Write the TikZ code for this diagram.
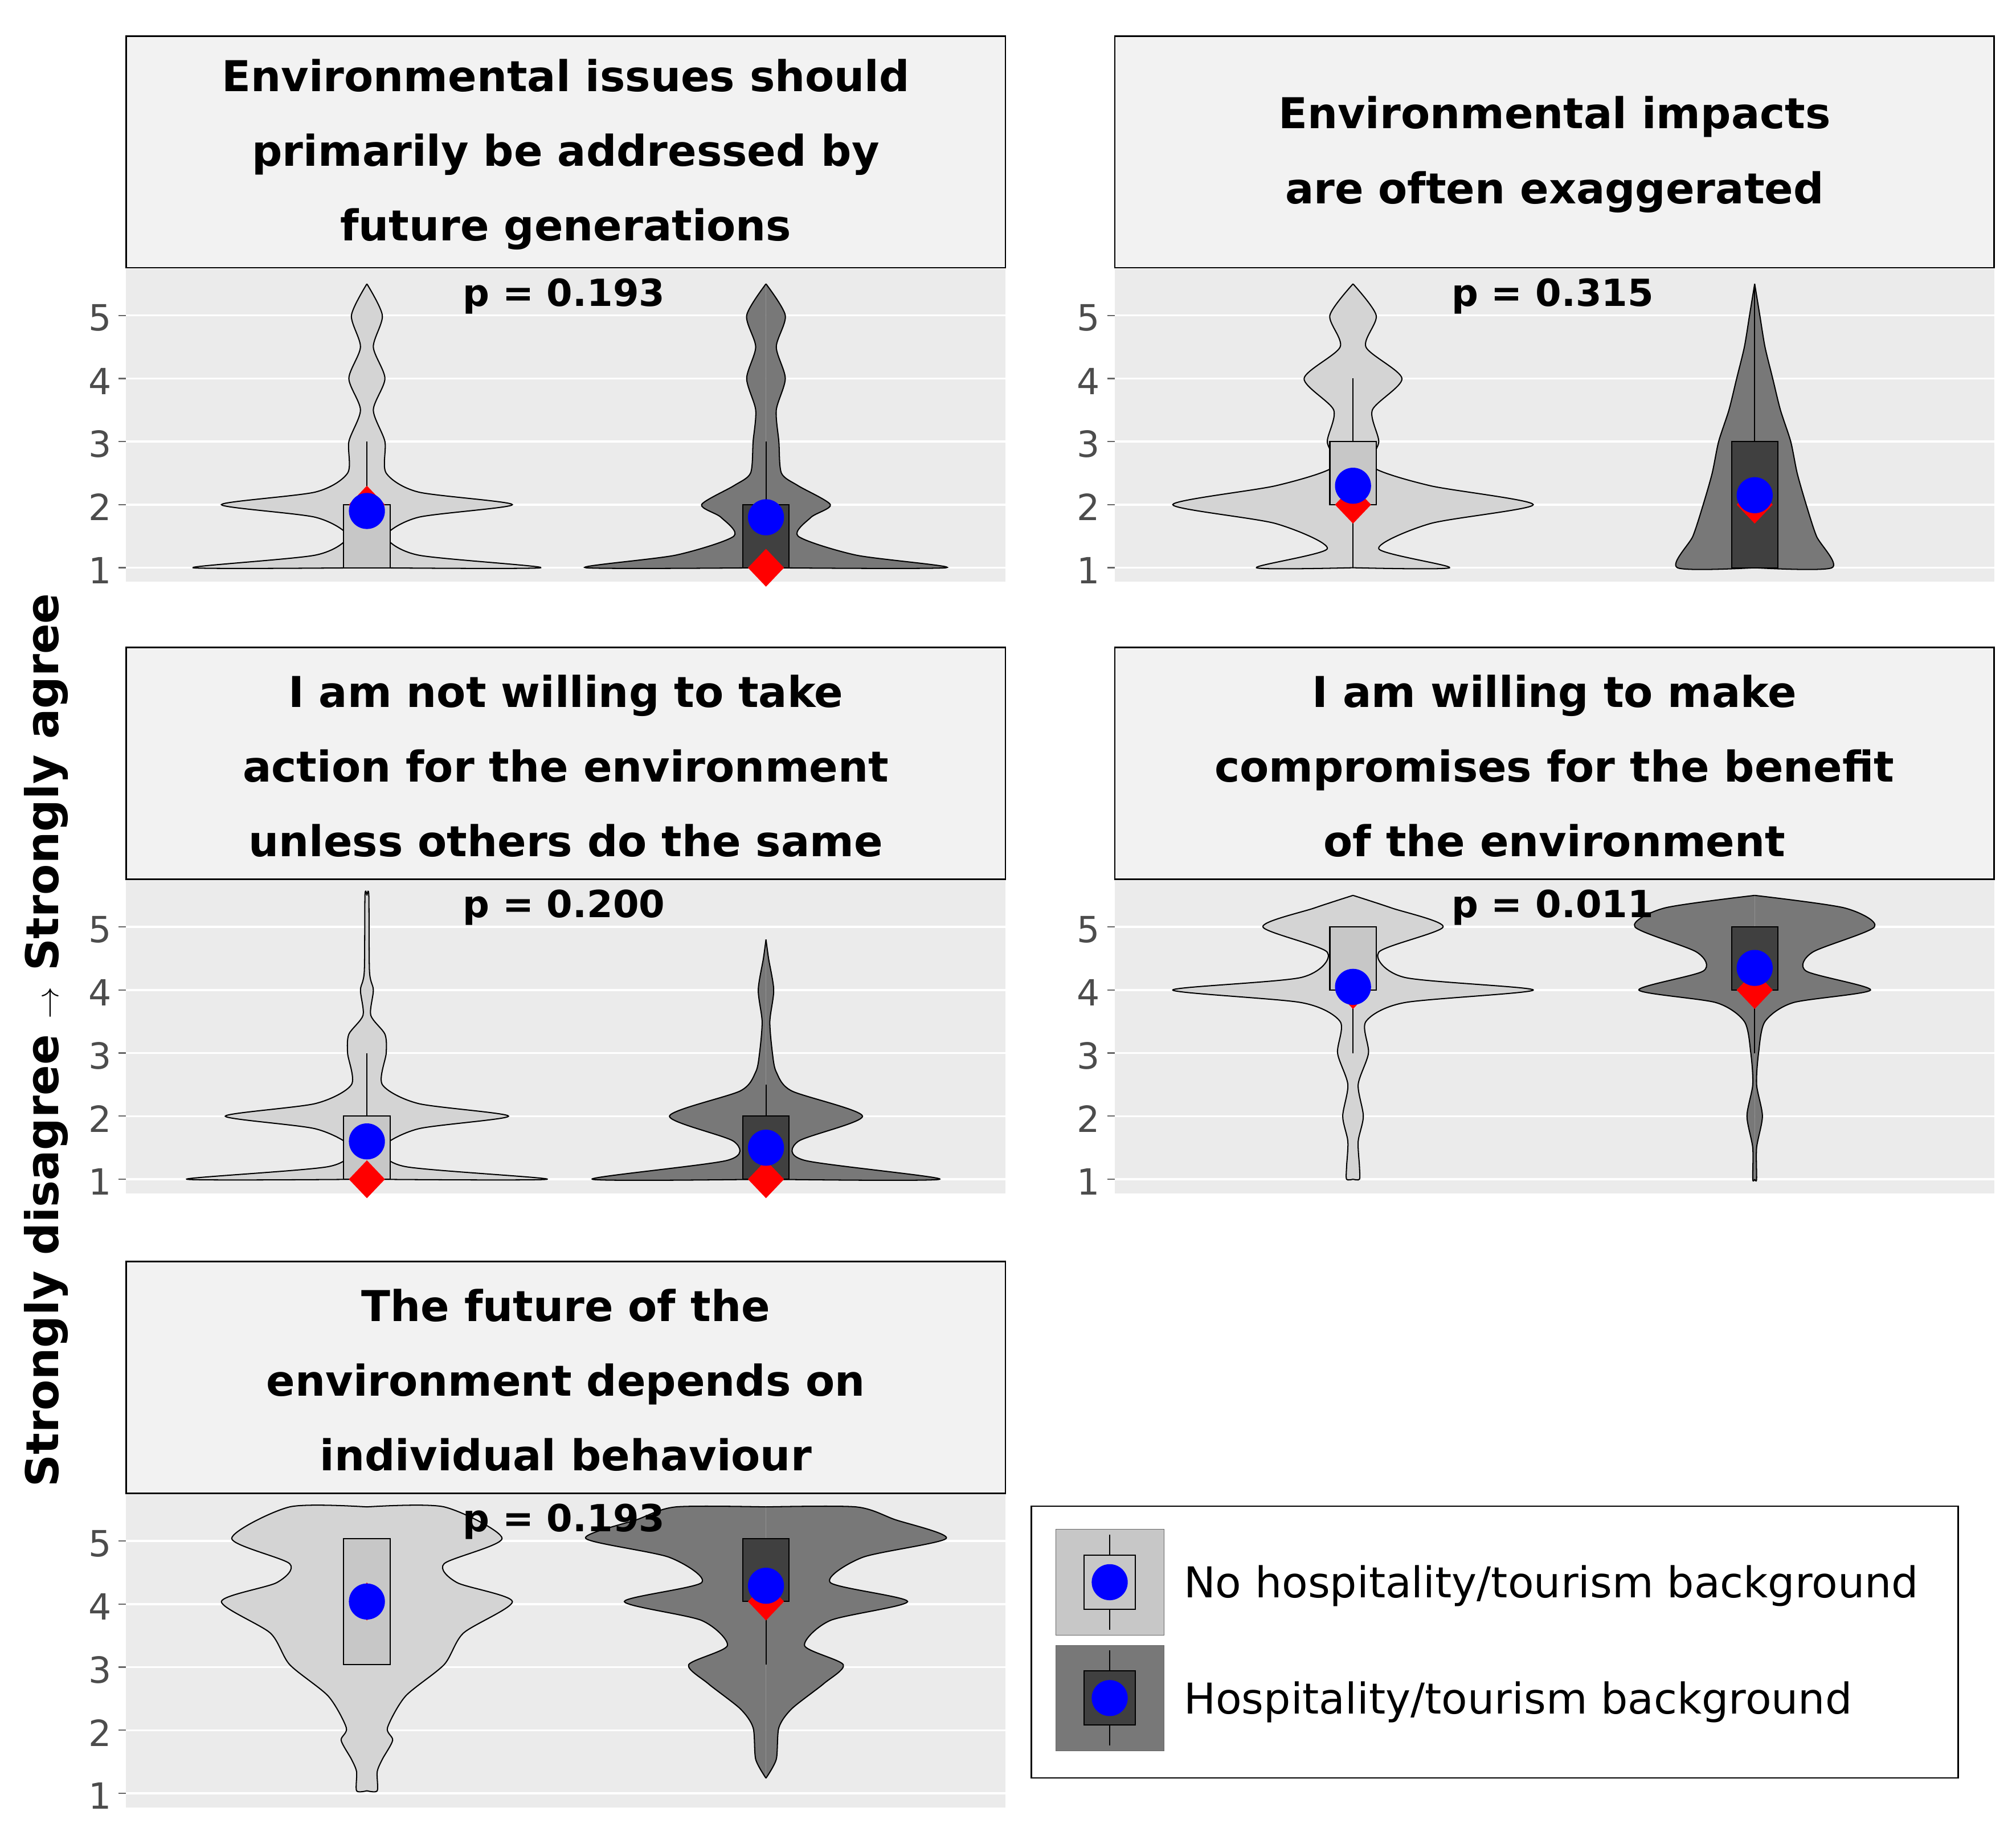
\documentclass[tikz,border=0pt]{standalone}
\usepackage{fontspec}
\setmainfont{DejaVu Sans}
\usetikzlibrary{calc}
\begin{document}
\begin{tikzpicture}[x=1pt,y=-1pt,
  strip/.style={draw=black,line width=1.2pt,fill=black!5},
  bg/.style={fill=black!8,draw=none},
  grid/.style={draw=white,line width=1.6pt},
  lite/.style={fill=black!17},
  dark/.style={fill=black!53},
  litebox/.style={fill=black!22,draw=black,line width=0.9pt},
  darkbox/.style={fill=black!75,draw=black,line width=0.9pt},
  ttl/.style={font=\fontsize{33}{58}\selectfont\bfseries,align=center},
  pv/.style={font=\fontsize{29}{34}\selectfont\bfseries},
  tick/.style={font=\fontsize{28}{32}\selectfont,text=black!70,anchor=east},
  leg/.style={anchor=west,font=\fontsize{33}{36}\selectfont},
  mean/.style={fill=blue,draw=none},
  med/.style={fill=red,draw=none}]
\useasboundingbox (0,0) rectangle (1566,1432);
\fill[white] (0,0) rectangle (1566,1432);
\newcommand\mypanel[4]{% name, xleft, striptop, title
  \path[strip] (#2,#3) rectangle ++(683,180);
  \node[ttl] (#1t) at ($(#2,#3)+(341.5,92)$) {#4};
  \path[bg] (#2,#3+181) rectangle ++(683,243);
  \foreach \v in {1,...,5}{
    \draw[grid] (#2,#3+413-49*\v+49) -- ++(683,0);
    \draw[black!60,line width=1pt] (#2-6,#3+413-49*\v+49) -- (#2,#3+413-49*\v+49);
    \node[tick] at (#2-8,#3+415-49*\v+49) {\v};}
}
\newcommand\pval[4]{\node[pv] (#1p) at (#2+340,#3+202) {#4};}
\newcommand\vio[4]{% cx, y(value0), style, points
  \begin{scope}[shift={(#1,#2)},yscale=-49]
    \fill[#3] plot[smooth,tension=0.45] coordinates {#4} -- cycle;
    \begin{scope}[xscale=-1]
      \fill[#3] plot[smooth,tension=0.45] coordinates {#4} -- cycle;
      \draw[line width=0.9pt] plot[smooth,tension=0.45] coordinates {#4};
    \end{scope}
    \draw[line width=0.9pt] plot[smooth,tension=0.45] coordinates {#4};
  \end{scope}}
\newcommand\bx[8]{% cx, y0, style, lo, hi, wlo, whi, mean | median in \medv
  \begin{scope}[shift={(#1,#2)},yscale=-49]
    \draw[line width=0.9pt] (0,#6) -- (0,#4) (0,#5) -- (0,#7);
    \path[#3] (-18,#4) rectangle (18,#5);
    \path[med] (0,\medv) ++(0,0.3) -- ++(14,-0.3) -- ++(-14,-0.3) -- ++(-14,0.3) -- cycle;
    \path[mean] (0,#8) circle[x radius=14,y radius=0.2857];
  \end{scope}}
\mypanel{a}{98}{28}{Environmental issues should\\primarily be addressed by\\future generations}
\mypanel{b}{866}{28}{Environmental impacts\\are often exaggerated}
\mypanel{c}{98}{503}{I am not willing to take\\action for the environment\\unless others do the same}
\mypanel{d}{866}{503}{I am willing to make\\compromises for the benefit\\of the environment}
\mypanel{e}{98}{980}{The future of the\\environment depends on\\individual behaviour}
% panel a
\vio{285}{490}{lite}{(0,1) (135,1) (40,1.2) (15,1.5) (40,1.8) (113,2) (40,2.2) (15,2.5) (14,3) (5,3.5) (14,4) (5,4.5) (12,5) (0,5.5)}
\def\medv{2}\bx{285}{490}{litebox}{1}{2}{2}{3}{1.9}
\vio{595}{490}{dark}{(0,1) (140,1) (70,1.2) (25,1.5) (35,1.8) (50,2) (25,2.3) (12,2.5) (10,3) (8,3.5) (15,4) (8,4.5) (15,5) (0,5.5)}
\def\medv{1}\bx{595}{490}{darkbox}{1}{2}{2}{3}{1.8}
% panel b
\vio{1051}{490}{lite}{(0,1) (75,1) (20,1.3) (60,1.7) (140,2) (60,2.3) (15,2.6) (20,3) (15,3.5) (38,4) (10,4.5) (18,5) (0,5.5)}
\def\medv{2}\bx{1051}{490}{litebox}{2}{3}{1}{4}{2.3}
\vio{1363}{490}{dark}{(0,1) (60,1) (48,1.5) (40,2) (33,2.5) (28,3) (20,3.5) (14,4) (8,4.5) (4,5) (0,5.5)}
\def\medv{2}\bx{1363}{490}{darkbox}{1}{3}{1}{5.5}{2.15}
% panel c
\vio{285}{965}{lite}{(0,1) (140,1) (30,1.2) (12,1.5) (40,1.8) (110,2) (40,2.2) (12,2.5) (15,3) (14,3.3) (3,3.6) (5,4) (2,4.3) (1.5,5.5) (0,5.5)}
\def\medv{1}\bx{285}{965}{litebox}{1}{2}{2}{3}{1.6}
\vio{595}{965}{dark}{(0,1) (135,1) (30,1.3) (25,1.6) (75,2) (20,2.4) (8,2.7) (5,3) (3,3.5) (6,4) (2,4.5) (0,4.8)}
\def\medv{1}\bx{595}{965}{darkbox}{1}{2}{2}{2.5}{1.5}
% panel d
\vio{1051}{965}{lite}{(0,1) (5,1) (5,1.2) (4,1.6) (8,2) (4,2.5) (12,3) (10,3.5) (40,3.8) (140,4) (40,4.2) (20,4.6) (70,5) (30,5.3) (0,5.5)}
\def\medv{4}\bx{1051}{965}{litebox}{4}{5}{3}{5}{4.05}
\vio{1363}{965}{dark}{(0,1) (1.5,1) (1.5,1.5) (6,2) (1.5,2.5) (3,3) (8,3.5) (30,3.8) (90,4) (40,4.3) (45,4.6) (93,5) (70,5.3) (0,5.5)}
\def\medv{4}\bx{1363}{965}{darkbox}{4}{5}{3}{5}{4.35}
% panel e
\vio{285}{1440}{lite}{(0,1) (8,1) (8,1.3) (12,1.5) (20,1.8) (16,2) (30,2.5) (60,3) (75,3.5) (113,4) (70,4.3) (60,4.6) (105,5) (60,5.5) (0,5.5)}
\def\medv{4}\bx{285}{1440}{litebox}{3}{5}{3}{5}{4}
\vio{595}{1440}{dark}{(0,1.2) (8,1.5) (10,2) (20,2.3) (45,2.7) (60,3) (30,3.3) (50,3.7) (110,4) (50,4.3) (75,4.7) (140,5) (100,5.3) (70,5.5) (0,5.5)}
\def\medv{4}\bx{595}{1440}{darkbox}{4}{5}{3}{5}{4.25}
% p values on top
\pval{a}{98}{28}{p = 0.193}
\pval{b}{866}{28}{p = 0.315}
\pval{c}{98}{503}{p = 0.200}
\pval{d}{866}{503}{p = 0.011}
\pval{e}{98}{980}{p = 0.193}
% y label
\node[rotate=90,font=\fontsize{35}{40}\selectfont\bfseries] (ylab) at (36,808) {Strongly disagree $\rightarrow$ Strongly agree};
% legend
\draw[line width=1.2pt,fill=white] (801,1170) rectangle (1521,1381);
\path[fill=black!22,draw=black!60] (820,1188) rectangle (904,1270);
\draw[line width=0.9pt] (862,1192) -- (862,1266);
\path[litebox] (842,1208) rectangle (882,1250);
\fill[blue] (862,1229) circle[radius=14];
\path[fill=black!53,draw=black!60] (820,1278) rectangle (904,1360);
\draw[line width=0.9pt] (862,1282) -- (862,1356);
\path[darkbox] (842,1298) rectangle (882,1340);
\fill[blue] (862,1319) circle[radius=14];
\node[leg] (l1) at (916,1232) {No hospitality/tourism background};
\node[leg] (l2) at (916,1322) {Hospitality/tourism background};
\end{tikzpicture}
\end{document}
